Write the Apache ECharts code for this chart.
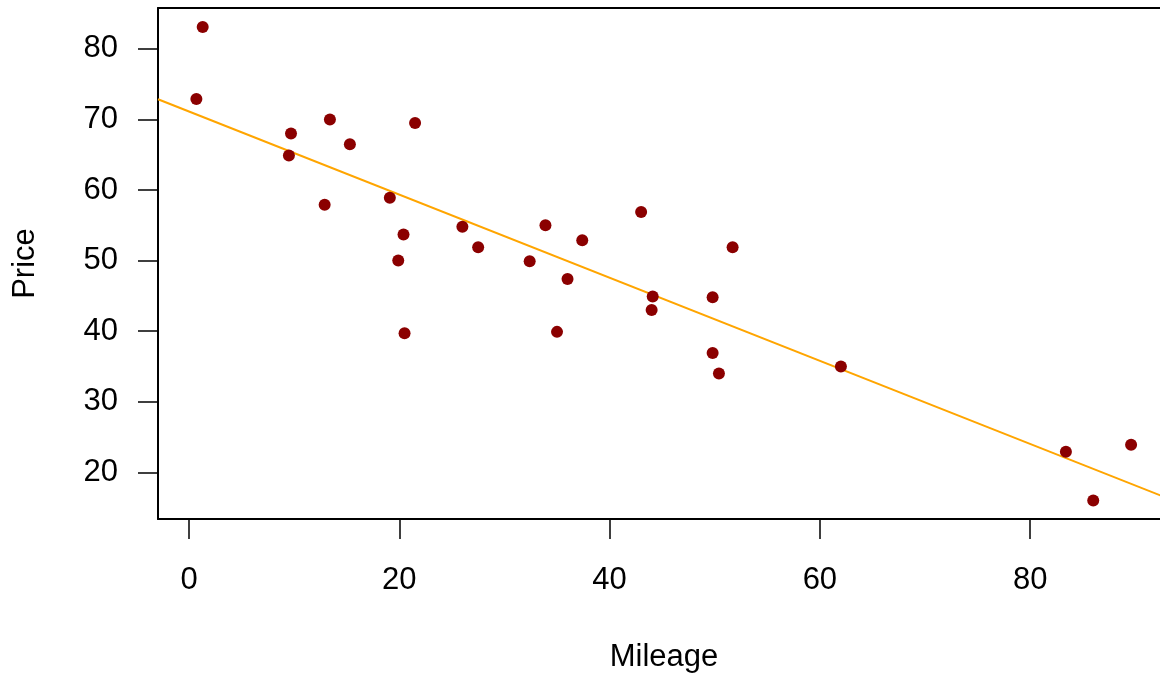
<!DOCTYPE html>
<html>
<head>
<meta charset="utf-8">
<script src="https://cdn.jsdelivr.net/npm/echarts@6/dist/echarts.min.js"></script>
<style>
    html, body {margin: 0; padding: 0; background: #fff;}
    #chart {width: 1160px; height: 673px;}
</style>
</head>
<body>
<div id="chart"></div>
<script>
// car data: mileage vs price
const mileage = [0.7, 1.3, 9.5, 9.7, 12.9, 13.4, 15.3, 19.1, 19.9, 20.4, 20.5, 21.5,
    26.0, 27.5, 32.4, 33.9, 35.0, 36.0, 37.4, 43.0, 44.0, 44.1, 49.8, 49.8, 50.4,
    51.7, 62.0, 83.4, 86.0, 89.6];
const price = [72.9, 83.1, 64.9, 68.0, 57.9, 70.0, 66.5, 58.9, 50.0, 53.7, 39.7, 69.5,
    54.8, 51.9, 49.9, 55.0, 39.9, 47.4, 52.9, 56.9, 43.0, 44.9, 36.9, 44.8, 34.0,
    51.9, 35.0, 22.9, 16.0, 23.9];
// fitted line end points
const fitX = [-2.95, 93.3];
const fitY = [72.87, 16.18];
const xTicks = [0, 20, 40, 60, 80];
const yTicks = [20, 30, 40, 50, 60, 70, 80];

const font = "'Liberation Sans', Arial, Helvetica, sans-serif";
// the plot box runs a little past the right edge of the picture
const xMin = -2.95, xMax = 93.3, yMin = 13.38, yMax = 85.8;

const chart = echarts.init(document.getElementById('chart'), null, {renderer: 'canvas'});
const points = mileage.map((m, i) => [m, price[i]]);
const fit = fitX.map((x, i) => [x, fitY[i]]);

chart.setOption({
    animation: false,
    backgroundColor: '#fff',
    grid: {left: 158, top: 8, right: -10, bottom: 154, containLabel: false, outerBoundsMode: 'none'},
    xAxis: [
        {
            type: 'value', min: xMin, max: xMax, position: 'bottom',
            name: 'Mileage', nameLocation: 'middle', nameGap: 123,
            nameTextStyle: {fontFamily: font, fontSize: 31, color: '#000'},
            axisLine: {show: true, onZero: false, lineStyle: {color: '#000', width: 2}},
            axisTick: {show: true, length: 20, lineStyle: {color: '#000', width: 1.5},
                customValues: xTicks},
            axisLabel: {fontFamily: font, fontSize: 31, color: '#000', margin: 46,
                customValues: xTicks},
            splitLine: {show: false}
        },
        {
            type: 'value', min: xMin, max: xMax, position: 'top',
            axisLine: {show: true, onZero: false, lineStyle: {color: '#000', width: 2}},
            axisTick: {show: false}, axisLabel: {show: false}, splitLine: {show: false}
        }
    ],
    yAxis: {
        type: 'value', min: yMin, max: yMax,
        name: 'Price', nameLocation: 'middle', nameGap: 117, nameRotate: 90,
        nameTextStyle: {fontFamily: font, fontSize: 31, color: '#000'},
        axisLine: {show: true, onZero: false, lineStyle: {color: '#000', width: 2}},
        axisTick: {show: true, length: 20, lineStyle: {color: '#000', width: 1.5},
            customValues: yTicks},
        axisLabel: {fontFamily: font, fontSize: 31, color: '#000', margin: 40,
            customValues: yTicks},
        splitLine: {show: false}
    },
    series: [
        {
            type: 'scatter', data: points, symbol: 'circle', symbolSize: 12,
            itemStyle: {color: '#8B0000', opacity: 1}, z: 3
        },
        {
            type: 'line', data: fit, showSymbol: false, symbol: 'none', clip: true,
            lineStyle: {color: '#FFA500', width: 2}, z: 2
        }
    ]
});
</script>
</body>
</html>
